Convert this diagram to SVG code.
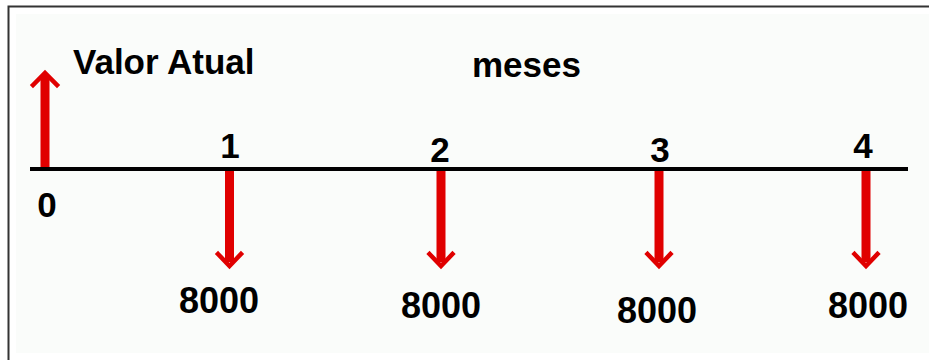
<svg xmlns="http://www.w3.org/2000/svg" width="929" height="360" viewBox="0 0 929 360">
<style>
text{font-family:"Liberation Sans",Arial,sans-serif;font-weight:bold;fill:#000}
.lbl{font-size:35px}
.amt{font-size:36px;text-anchor:middle}
.num{font-size:35px;text-anchor:middle}
.shaft{stroke:#e00000;stroke-width:9;fill:none}
.head{stroke:#e00000;stroke-width:4.5;fill:none;stroke-linecap:square;stroke-linejoin:miter}
</style>
<rect x="0" y="0" width="929" height="360" fill="#ffffff"/>
<rect x="16" y="14" width="913" height="339" fill="#fafcfa"/>
<path d="M8.5,360 V6.5 H929" fill="none" stroke="#333333" stroke-width="2"/>
<g id="connectors">
  <line id="axis" x1="30" y1="169" x2="908" y2="169" stroke="#000" stroke-width="4"/>
  <g id="arrow0">
    <line class="shaft" x1="45" y1="167" x2="45" y2="76"/>
    <polyline class="head" points="33,85 45,73 57,85"/>
  </g>
  <g id="arrow1">
    <line class="shaft" x1="229.5" y1="171" x2="229.5" y2="262"/>
    <polyline class="head" points="218,254 229.5,266 241,254"/>
  </g>
  <g id="arrow2">
    <line class="shaft" x1="441" y1="171" x2="441" y2="262"/>
    <polyline class="head" points="429.5,254 441,266 452.5,254"/>
  </g>
  <g id="arrow3">
    <line class="shaft" x1="659" y1="171" x2="659" y2="262"/>
    <polyline class="head" points="647.5,254 659,266 670.5,254"/>
  </g>
  <g id="arrow4">
    <line class="shaft" x1="866" y1="171" x2="866" y2="262"/>
    <polyline class="head" points="854.5,254 866,266 877.5,254"/>
  </g>
</g>
<g id="title-valor"><text class="lbl" x="73" y="74">Valor Atual</text></g>
<g id="title-meses"><text class="lbl" x="472" y="77" font-size="36">meses</text></g>
<g id="node0"><text class="num" x="47" y="217">0</text></g>
<g id="node1">
  <text class="num" x="230" y="158">1</text>
  <text class="amt" x="219" y="313">8000</text>
</g>
<g id="node2">
  <text class="num" x="440" y="162">2</text>
  <text class="amt" x="441" y="318">8000</text>
</g>
<g id="node3">
  <text class="num" x="660" y="162">3</text>
  <text class="amt" x="657" y="323">8000</text>
</g>
<g id="node4">
  <text class="num" x="863" y="158">4</text>
  <text class="amt" x="868" y="318">8000</text>
</g>
</svg>
